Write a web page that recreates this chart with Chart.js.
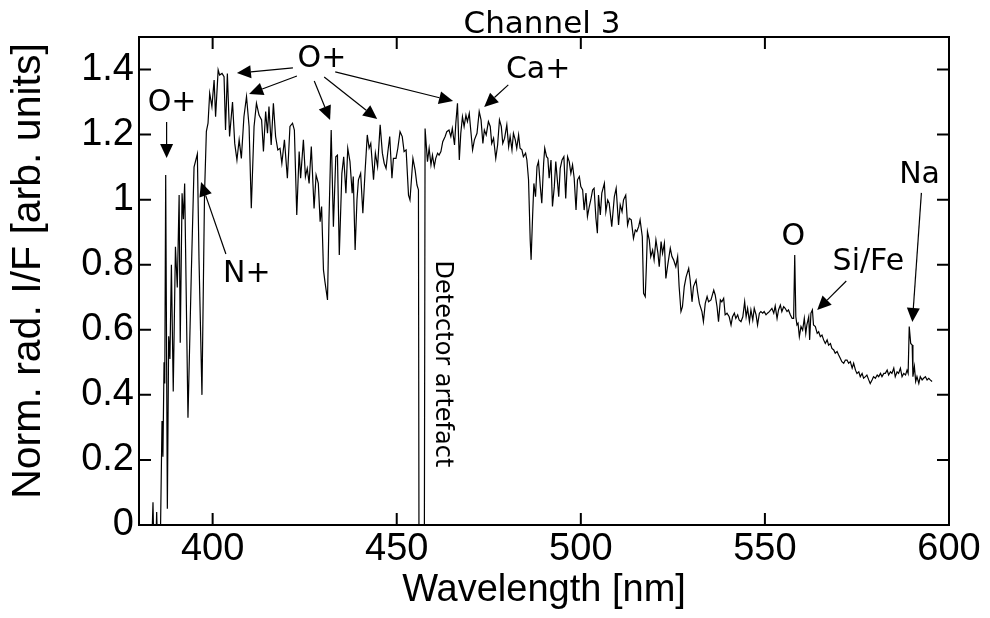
<!DOCTYPE html>
<html>
<head>
<meta charset="utf-8">
<script src="https://cdn.jsdelivr.net/npm/chart.js@4"></script>
<style>
  html, body { margin: 0; padding: 0; background: #fff; }
</style>
</head>
<body>
<canvas id="spectrum" width="990" height="618"></canvas>
<script>
// Channel 3 spectrum, wavelength in nm
var wavelength = [
  383.5, 383.8, 384.0, 384.6, 384.8, 385.0, 385.8, 386.25, 386.5, 386.8, 387.0, 387.25, 387.7, 388.06, 388.4, 388.8,
  389.3, 389.9, 390.4, 390.9, 391.2, 391.7, 392.05, 392.4, 393.3, 394.2, 394.95, 395.85, 396.3, 397.1, 397.8, 398.3,
  398.75, 399.2, 399.8, 400.4, 400.8, 401.5, 401.9, 402.55, 403.1, 403.5, 404.0, 404.6, 405.4, 406.0, 406.6, 407.2,
  407.8, 408.5, 409.2, 409.9, 410.5, 411.25, 411.9, 412.6, 413.3, 413.8, 414.4, 414.9, 415.3, 415.9, 416.5, 417.1,
  417.7, 418.3, 418.8, 419.5, 420.3, 421.0, 421.7, 422.2, 422.85, 423.5, 423.9, 424.65, 425.2, 425.7, 426.2, 426.8,
  427.55, 428.1, 428.7, 429.2, 429.6, 430.1, 430.5, 431.2, 431.6, 432.2, 432.8, 433.45, 433.9, 434.4, 435.1, 435.6,
  436.2, 436.7, 437.3, 437.9, 438.2, 438.7, 439.2, 439.6, 440.2, 440.8, 441.4, 442.0, 442.5, 442.95, 443.7, 444.2,
  444.8, 445.5, 446.1, 446.6, 447.1, 447.6, 448.1, 448.7, 449.1, 449.8, 450.3, 450.9, 451.5, 452.0, 452.55, 453.2,
  453.6, 454.4, 455.0, 455.5, 455.9, 456.05, 457.5, 457.7, 458.35, 458.8, 459.3, 459.7, 460.2, 460.6, 461.1, 461.5,
  462.0, 462.5, 463.15, 463.6, 464.2, 464.7, 465.1, 465.7, 466.05, 466.5, 467.0, 467.4, 467.85, 468.3, 468.8, 469.2,
  469.7, 470.1, 470.6, 471.1, 471.8, 472.4, 472.9, 473.4, 473.8, 474.3, 474.9, 475.4, 475.8, 476.3, 476.9, 477.4,
  477.9, 478.4, 478.8, 479.3, 479.9, 480.4, 480.8, 481.3, 481.7, 482.2, 482.6, 483.1, 483.5, 484.0, 484.4, 485.0,
  485.35, 485.8, 486.25, 486.5, 486.9, 487.25, 487.7, 488.1, 488.5, 489.0, 489.4, 489.9, 490.2, 490.7, 491.05, 491.4,
  491.9, 492.3, 492.8, 493.2, 493.7, 494.0, 494.4, 494.9, 495.4, 495.9, 496.4, 496.85, 497.3, 497.75, 498.2, 498.7,
  499.1, 499.6, 500.0, 500.5, 500.9, 501.4, 501.8, 502.3, 502.7, 503.2, 503.6, 504.1, 504.5, 504.8, 505.3, 505.7,
  506.4, 506.8, 507.3, 507.7, 508.4, 509.1, 509.6, 510.25, 510.7, 511.2, 511.6, 512.2, 512.7, 513.15, 513.7, 514.3,
  514.8, 515.2, 515.7, 516.1, 516.7, 517.05, 517.5, 517.8, 518.1, 518.6, 519.0, 519.5, 519.9, 520.4, 520.95, 521.3,
  521.8, 522.2, 522.7, 523.1, 523.6, 524.3, 524.75, 525.2, 525.8, 526.3, 526.7, 527.2, 527.6, 528.1, 528.6, 529.3,
  529.7, 530.2, 530.6, 531.3, 531.7, 532.2, 532.9, 533.3, 533.8, 534.3, 534.7, 535.35, 536.1, 536.5, 537.0, 537.4,
  537.9, 538.3, 538.8, 539.2, 539.7, 540.3, 540.8, 541.2, 541.7, 542.1, 542.6, 543.0, 543.5, 544.0, 544.5, 544.9,
  545.3, 545.8, 546.2, 546.7, 547.1, 547.6, 548.0, 548.5, 548.9, 549.4, 549.8, 550.3, 550.7, 551.2, 551.9, 552.4,
  552.8, 553.3, 553.7, 554.2, 554.6, 555.1, 555.5, 556.0, 556.4, 556.9, 557.4, 557.8, 558.1, 558.4, 558.7, 559.0,
  559.35, 559.8, 560.25, 560.7, 561.1, 561.4, 561.9, 562.15, 562.5, 562.9, 563.2, 563.7, 564.2, 564.6, 565.05, 565.5,
  565.95, 566.4, 566.9, 567.3, 567.8, 568.2, 568.7, 569.1, 569.6, 570.0, 570.5, 570.9, 571.4, 571.85, 572.3, 572.75,
  573.2, 573.7, 574.1, 574.6, 575.0, 575.5, 575.9, 576.4, 576.8, 577.3, 577.7, 578.2, 578.6, 579.1, 579.5, 580.0,
  580.5, 580.9, 581.4, 581.8, 582.3, 582.7, 583.2, 583.6, 584.1, 584.5, 585.0, 585.4, 585.9, 586.3, 586.8, 587.25,
  587.7, 588.2, 588.6, 588.9, 589.2, 589.6, 590.0, 590.2, 590.6, 590.95, 591.3, 591.8, 592.2, 592.7, 593.1, 593.6,
  594.05, 594.5, 594.9, 595.4
]

// normalised radiance I/F (arb. units)
var normRad = [
  -0.05, 0.07, -0.05, -0.05, 0.04, -0.05, -0.05, 0.32, 0.21, 0.50, 0.435, 1.076, 0.05, 0.58, 0.51, 0.80,
  0.41, 0.855, 0.73, 1.014, 0.56, 1.02, 0.94, 1.05, 0.33, 0.77, 1.10, 1.14, 0.815, 0.40, 1.02, 1.21,
  1.235, 1.327, 1.286, 1.368, 1.255, 1.399, 1.383, 1.388, 1.378, 1.214, 1.388, 1.194, 1.30, 1.173, 1.122, 1.184,
  1.127, 1.255, 1.317, 1.225, 0.974, 1.225, 1.296, 1.26, 1.245, 1.148, 1.271, 1.204, 1.286, 1.168, 1.296, 1.194,
  1.153, 1.158, 1.112, 1.184, 1.066, 1.225, 1.235, 1.214, 0.953, 1.148, 1.066, 1.184, 1.071, 1.096, 1.050, 1.163,
  0.973, 1.076, 1.050, 0.932, 0.979, 0.784, 0.748, 0.692, 0.938, 1.214, 0.917, 1.132, 1.137, 0.830, 1.081, 1.132,
  1.020, 1.158, 1.117, 1.020, 1.071, 0.845, 0.999, 1.061, 1.081, 0.958, 1.086, 1.199, 1.158, 1.173, 1.061, 1.143,
  1.102, 1.230, 1.143, 1.112, 1.096, 1.148, 1.194, 1.066, 1.127, 1.127, 1.158, 1.209, 1.194, 1.148, 1.153, 1.014,
  0.999, 1.127, 1.091, 1.045, 1.030, -0.1, -0.1, 1.219, 1.117, 1.158, 1.107, 1.137, 1.102, 1.127, 1.143, 1.137,
  1.148, 1.178, 1.194, 1.209, 1.214, 1.194, 1.219, 1.168, 1.235, 1.296, 1.122, 1.204, 1.255, 1.225, 1.260, 1.240,
  1.265, 1.214, 1.153, 1.184, 1.204, 1.271, 1.245, 1.173, 1.214, 1.199, 1.240, 1.225, 1.173, 1.189, 1.127, 1.168,
  1.245, 1.225, 1.173, 1.189, 1.230, 1.163, 1.194, 1.153, 1.204, 1.184, 1.158, 1.199, 1.158, 1.153, 1.132, 1.143,
  1.122, 1.061, 0.876, 0.815, 0.948, 1.050, 1.009, 1.102, 1.117, 1.040, 0.989, 1.112, 1.158, 1.132, 1.127, 1.066,
  1.122, 0.979, 1.040, 1.117, 1.050, 1.009, 1.096, 1.122, 1.132, 1.004, 1.132, 1.117, 1.081, 1.107, 1.066, 0.968,
  1.061, 1.071, 1.040, 1.030, 0.968, 1.020, 0.948, 0.979, 0.999, 1.030, 1.035, 0.943, 0.897, 1.014, 0.953, 1.020,
  1.050, 0.963, 0.999, 0.989, 0.917, 1.009, 1.035, 0.922, 0.984, 0.963, 0.999, 1.014, 0.922, 0.943, 0.938, 0.881,
  0.907, 0.902, 0.917, 0.938, 0.886, 0.712, 0.702, 0.794, 0.902, 0.876, 0.825, 0.845, 0.815, 0.876, 0.835, 0.794,
  0.871, 0.835, 0.866, 0.758, 0.799, 0.851, 0.825, 0.815, 0.794, 0.825, 0.733, 0.656, 0.671, 0.733, 0.763, 0.789,
  0.753, 0.686, 0.733, 0.753, 0.717, 0.681, 0.656, 0.625, 0.681, 0.702, 0.686, 0.692, 0.722, 0.707, 0.671, 0.625,
  0.692, 0.686, 0.697, 0.646, 0.651, 0.640, 0.615, 0.640, 0.651, 0.635, 0.646, 0.630, 0.625, 0.640, 0.686, 0.640,
  0.666, 0.625, 0.661, 0.630, 0.666, 0.646, 0.615, 0.651, 0.656, 0.651, 0.656, 0.646, 0.651, 0.656, 0.666, 0.651,
  0.673, 0.635, 0.661, 0.676, 0.656, 0.671, 0.666, 0.656, 0.661, 0.646, 0.635, 0.635, 0.830, 0.640, 0.615, 0.620,
  0.579, 0.610, 0.599, 0.635, 0.589, 0.615, 0.640, 0.569, 0.651, 0.661, 0.615, 0.610, 0.589, 0.594, 0.579, 0.584,
  0.569, 0.558, 0.569, 0.553, 0.558, 0.543, 0.538, 0.528, 0.533, 0.523, 0.512, 0.502, 0.497, 0.507, 0.507, 0.497,
  0.502, 0.482, 0.497, 0.476, 0.466, 0.471, 0.456, 0.466, 0.451, 0.456, 0.461, 0.446, 0.435, 0.446, 0.456, 0.451,
  0.461, 0.456, 0.466, 0.456, 0.466, 0.466, 0.476, 0.461, 0.471, 0.466, 0.482, 0.456, 0.471, 0.466, 0.482, 0.456,
  0.466, 0.461, 0.476, 0.466, 0.610, 0.558, 0.553, 0.456, 0.487, 0.441, 0.456, 0.435, 0.456, 0.446, 0.451, 0.456,
  0.446, 0.451, 0.446, 0.441
]

var xTicks = [400, 450, 500, 550, 600]
var yTicks = [0, 0.2, 0.4, 0.6, 0.8, 1, 1.2, 1.4]

// line identifications: text at (x, y) in data units
var lineLabels = [
  {text: 'O+', x: 389.0, y: 1.297},
  {text: 'O+', x: 429.7, y: 1.433},
  {text: 'Ca+', x: 488.4, y: 1.399},
  {text: 'N+', x: 409.3, y: 0.772},
  {text: 'O', x: 557.7, y: 0.885},
  {text: 'Si/Fe', x: 578.1, y: 0.808},
  {text: 'Na', x: 592.0, y: 1.076}
]

// arrows [fromX, fromY, toX, toY], head at the "to" end
var arrows = [
  [387.5, 1.239, 387.5, 1.128],
  [421.8, 1.405, 406.6, 1.389],
  [422.9, 1.380, 409.9, 1.325],
  [427.6, 1.365, 431.9, 1.245],
  [430.3, 1.377, 444.7, 1.248],
  [433.3, 1.393, 465.3, 1.303],
  [480.3, 1.353, 473.75, 1.285],
  [403.6, 0.833, 396.85, 1.054],
  [572.1, 0.750, 564.2, 0.661],
  [592.5, 1.021, 590.05, 0.624]
]

var artefactNote = {text: 'Detector artefact', x: 462.3, y: 0.495}

var points = wavelength.map(function(w, i){ return {x: w, y: normRad[i]} })

function drawArrow(ctx, x0, y0, x1, y1){
  var ang = Math.atan2(y1 - y0, x1 - x0)
  var len = 14, half = 6.5
  var bx = x1 - len * Math.cos(ang), by = y1 - len * Math.sin(ang)
  ctx.beginPath()
  ctx.moveTo(x0, y0)
  ctx.lineTo(bx, by)
  ctx.stroke()
  ctx.beginPath()
  ctx.moveTo(x1, y1)
  ctx.lineTo(bx - half * Math.sin(ang), by + half * Math.cos(ang))
  ctx.lineTo(bx + half * Math.sin(ang), by - half * Math.cos(ang))
  ctx.closePath()
  ctx.fill()
}

// box, inward ticks on all four sides, titles and line labels
const decorations = {
  id: 'decorations',
  afterDraw: (chart) => {
    const ctx = chart.ctx
    const a = chart.chartArea
    const xs = chart.scales.x, ys = chart.scales.y
    ctx.save()
    ctx.strokeStyle = '#000'
    ctx.fillStyle = '#000'
    ctx.lineWidth = 2
    ctx.strokeRect(a.left, a.top, a.right - a.left, a.bottom - a.top)
    ctx.beginPath()
    xTicks.forEach(v => {
      const p = xs.getPixelForValue(v)
      ctx.moveTo(p, a.bottom); ctx.lineTo(p, a.bottom - 12)
      ctx.moveTo(p, a.top); ctx.lineTo(p, a.top + 12)
    })
    yTicks.forEach(v => {
      const p = ys.getPixelForValue(v)
      ctx.moveTo(a.left, p); ctx.lineTo(a.left + 12, p)
      ctx.moveTo(a.right, p); ctx.lineTo(a.right - 12, p)
    })
    ctx.stroke()

    ctx.font = '31px "DejaVu Sans"'
    ctx.textAlign = 'center'
    ctx.textBaseline = 'alphabetic'
    ctx.fillText('Channel 3', (a.left + a.right) / 2 - 2, a.top - 4)

    // y axis title, a little above the middle of the box
    ctx.save()
    ctx.translate(29, (a.top + a.bottom) / 2 - 10)
    ctx.rotate(-Math.PI / 2)
    ctx.font = '41px "Liberation Sans", Arial, sans-serif'
    ctx.textBaseline = 'middle'
    ctx.fillText('Norm. rad. I/F [arb. units]', 0, 0)
    ctx.restore()

    ctx.font = '30px "DejaVu Sans"'
    ctx.textBaseline = 'middle'
    lineLabels.forEach(l => {
      ctx.fillText(l.text, xs.getPixelForValue(l.x), ys.getPixelForValue(l.y))
    })

    ctx.lineWidth = 1.2
    arrows.forEach(r => {
      drawArrow(ctx, xs.getPixelForValue(r[0]), ys.getPixelForValue(r[1]),
                xs.getPixelForValue(r[2]), ys.getPixelForValue(r[3]))
    })

    ctx.translate(xs.getPixelForValue(artefactNote.x), ys.getPixelForValue(artefactNote.y))
    ctx.rotate(Math.PI / 2)
    ctx.font = '24px "DejaVu Sans"'
    ctx.fillText(artefactNote.text, 0, 0)
    ctx.restore()
  }
}

const tickFont = {family: 'Liberation Sans, Arial, sans-serif', size: 38, lineHeight: 1.2}

const config = {
  type: 'scatter',
  data: {
    datasets: [{
      data: points,
      showLine: true,
      borderColor: '#000',
      borderWidth: 1.2,
      pointRadius: 0,
      tension: 0
    }]
  },
  options: {
    responsive: false,
    animation: false,
    layout: {padding: {left: 0, right: 41, top: 37, bottom: 0}},
    plugins: {legend: {display: false}, tooltip: {enabled: false}},
    scales: {
      x: {
        type: 'linear',
        min: 380,
        max: 600,
        grid: {display: false, drawTicks: false},
        border: {display: false},
        ticks: {color: '#000', font: tickFont, padding: 2, maxRotation: 0},
        title: {display: true, text: 'Wavelength [nm]', color: '#000', font: tickFont, padding: {top: 0, bottom: 5}},
        afterBuildTicks: s => { s.ticks = xTicks.map(v => ({value: v})) },
        afterFit: s => { s.height = 93; s.paddingLeft = 0; s.paddingRight = 0 }
      },
      y: {
        type: 'linear',
        min: 0,
        max: 1.5,
        grid: {display: false, drawTicks: false},
        border: {display: false},
        ticks: {color: '#000', font: tickFont, padding: 5, callback: v => String(v)},
        afterBuildTicks: s => { s.ticks = yTicks.map(v => ({value: v})) },
        afterFit: s => { s.width = 139; s.paddingTop = 0; s.paddingBottom = 0 }
      }
    }
  },
  plugins: [decorations]
}

const spectrumChart = new Chart(document.getElementById('spectrum'), config)
</script>
</body>
</html>
